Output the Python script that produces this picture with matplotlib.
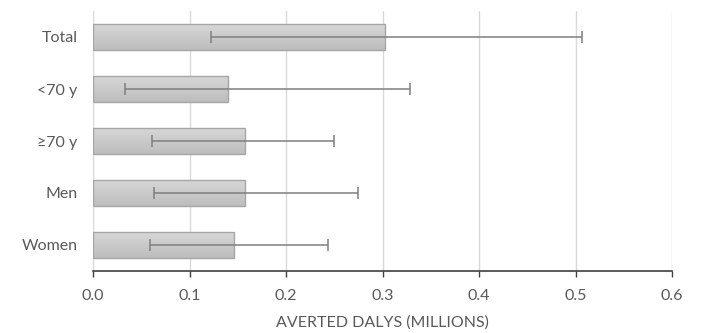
import matplotlib
matplotlib.use("Agg")
import matplotlib.pyplot as plt
import numpy as np
from matplotlib.colors import LinearSegmentedColormap

categories = ["Total", "<70 y", "≥70 y", "Men", "Women"]
values = [0.303, 0.140, 0.1575, 0.1575, 0.146]
err_low = [0.122, 0.0335, 0.061, 0.063, 0.0587]
err_high = [0.507, 0.328, 0.250, 0.275, 0.244]
xticks = [0.0, 0.1, 0.2, 0.3, 0.4, 0.5, 0.6]

plt.rcParams['font.family'] = ['Lato', 'DejaVu Sans']
txt = '#595959'

fig = plt.figure(figsize=(7.02, 3.33), dpi=100)
ax = fig.add_axes([93/702, 62/333, (672-93)/702, 260/333])

y = np.arange(len(categories))
bars = ax.barh(y, values, height=0.51, color='none', edgecolor='#a6a6a6', linewidth=1.0, zorder=3)

cmap = LinearSegmentedColormap.from_list('g', ['#d8d8d8', '#bdbdbd'])
grad = np.linspace(0, 1, 100).reshape(-1, 1)
for b in bars:
    x0, y0 = b.get_x(), b.get_y()
    w, h = b.get_width(), b.get_height()
    im = ax.imshow(grad, cmap=cmap, aspect='auto', extent=[x0, x0 + w, y0 + h, y0],
                   origin='upper', zorder=2)
    im.set_clip_path(b)

xerr = [np.array(values) - np.array(err_low), np.array(err_high) - np.array(values)]
ax.errorbar(values, y, xerr=xerr, fmt='none', ecolor='#7f7f7f', elinewidth=1.1,
            capsize=4, capthick=1.1, zorder=4)

ax.set_xlim(0, 0.6)
ax.set_ylim(4.5, -0.5)
ax.set_yticks(y)
ax.set_yticklabels(categories, fontsize=11.5, color=txt)
ax.tick_params(axis='y', length=0, pad=11)
ax.set_xticks(xticks)
ax.set_xticklabels([f"{t:.1f}" for t in xticks], fontsize=11.5, color=txt)
ax.tick_params(axis='x', direction='out', length=4, width=1, color='#404040', pad=9)
ax.grid(axis='x', color='#d9d9d9', linewidth=1, zorder=0)
ax.set_axisbelow(True)
for s in ['top', 'right', 'left']:
    ax.spines[s].set_visible(False)
ax.spines['bottom'].set_color('#404040')
ax.spines['bottom'].set_linewidth(1.2)
ax.set_xlabel("AVERTED DALYS (MILLIONS)", fontsize=11.5, color=txt, labelpad=9)

fig.savefig("out.png", dpi=100)
